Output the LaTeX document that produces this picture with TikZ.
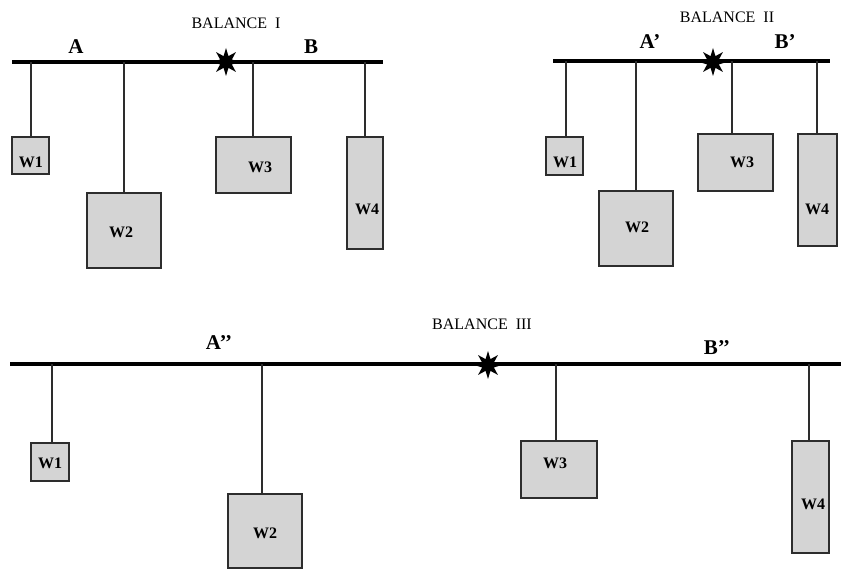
\documentclass[tikz,border=0pt]{standalone}
\usepackage{fontspec}
\setmainfont{Liberation Serif}
\usetikzlibrary{shapes.geometric}
\definecolor{boxfill}{RGB}{212,212,212}
\definecolor{edge}{RGB}{45,45,45}
\tikzset{
  beam/.style={line width=4pt, black},
  wire/.style={line width=1.3pt, edge},
  weight/.style={draw=edge, fill=boxfill, line width=1.4pt, rectangle, inner sep=0pt},
  wlabel/.style={font=\bfseries\fontsize{16}{16}\selectfont, inner sep=0pt},
  armlabel/.style={font=\bfseries\fontsize{21}{21}\selectfont, inner sep=0pt},
  title/.style={font=\fontsize{16}{16}\selectfont, inner sep=0pt},
  pivot/.style={star, star points=8, star point ratio=2.2, minimum size=28pt, fill=black, inner sep=0pt}
}
\begin{document}
\begin{tikzpicture}[x=1pt, y=-1pt]
\useasboundingbox (0,0) rectangle (841,569);

% ---------- Balance I ----------
\coordinate (b1l) at (12,62);
\coordinate (b1r) at (383,62);
\draw[beam] (b1l) -- (b1r);
\node[pivot] (p1) at (226,62) {};
\node[title] (t1) at (236,23) {BALANCE\ \ I};
\node[armlabel] (a1) at (76,47) {A};
\node[armlabel] (bb1) at (311,47) {B};

\node[weight, minimum width=37pt, minimum height=37pt] (w11) at (30.5,155.5) {};
\node[weight, minimum width=74pt, minimum height=75pt] (w12) at (124,230.5) {};
\node[weight, minimum width=75pt, minimum height=56pt] (w13) at (253.5,165) {};
\node[weight, minimum width=36pt, minimum height=112pt] (w14) at (365,193) {};
\coordinate (h11) at (31,62);
\coordinate (h12) at (124,62);
\coordinate (h13) at (253,62);
\coordinate (h14) at (365,62);
\foreach \i in {1,2,3,4} \draw[wire] (h1\i) -- (h1\i |- w1\i.north);
\node[wlabel] (l11) at (31,162) {W1};
\node[wlabel] (l12) at (121,232) {W2};
\node[wlabel] (l13) at (260,167) {W3};
\node[wlabel] (l14) at (367,209) {W4};

% ---------- Balance II ----------
\coordinate (b2l) at (553,61);
\coordinate (b2r) at (830,61);
\draw[beam] (b2l) -- (b2r);
\node[pivot] (p2) at (713,62) {};
\node[title] (t2) at (727,17) {BALANCE\ \ II};
\node[armlabel] (a2) at (650,42) {A’};
\node[armlabel] (bb2) at (785,42) {B’};

\node[weight, minimum width=37pt, minimum height=38pt] (w21) at (564.5,156) {};
\node[weight, minimum width=74pt, minimum height=75pt] (w22) at (636,228.5) {};
\node[weight, minimum width=75pt, minimum height=57pt] (w23) at (735.5,162.5) {};
\node[weight, minimum width=39pt, minimum height=112pt] (w24) at (817.5,190) {};
\coordinate (h21) at (566,61);
\coordinate (h22) at (636,61);
\coordinate (h23) at (732,61);
\coordinate (h24) at (817,61);
\foreach \i in {1,2,3,4} \draw[wire] (h2\i) -- (h2\i |- w2\i.north);
\node[wlabel] (l21) at (565,162) {W1};
\node[wlabel] (l22) at (637,227) {W2};
\node[wlabel] (l23) at (742,162) {W3};
\node[wlabel] (l24) at (817,209) {W4};

% ---------- Balance III ----------
\coordinate (b3l) at (10,364);
\coordinate (b3r) at (841,364);
\draw[beam] (b3l) -- (b3r);
\node[pivot] (p3) at (488,365) {};
\node[title] (t3) at (482,324) {BALANCE\ \ III};
\node[armlabel] (a3) at (219,343) {A’’};
\node[armlabel] (bb3) at (717,348) {B’’};

\node[weight, minimum width=38pt, minimum height=38pt] (w31) at (50,462) {};
\node[weight, minimum width=74pt, minimum height=74pt] (w32) at (265,531) {};
\node[weight, minimum width=76pt, minimum height=57pt] (w33) at (559,469.5) {};
\node[weight, minimum width=37pt, minimum height=112pt] (w34) at (810.5,497) {};
\coordinate (h31) at (52,364);
\coordinate (h32) at (262,364);
\coordinate (h33) at (556,364);
\coordinate (h34) at (809,364);
\foreach \i in {1,2,3,4} \draw[wire] (h3\i) -- (h3\i |- w3\i.north);
\node[wlabel] (l31) at (50,463) {W1};
\node[wlabel] (l32) at (265,533) {W2};
\node[wlabel] (l33) at (555,463) {W3};
\node[wlabel] (l34) at (813,504) {W4};
\end{tikzpicture}
\end{document}
